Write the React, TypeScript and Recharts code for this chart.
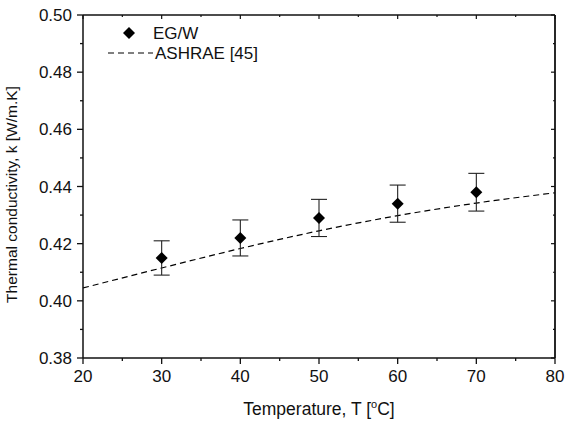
import React from 'react';
import { ComposedChart, Line, Scatter, ErrorBar, XAxis, YAxis, Legend } from 'recharts';

const temperatures = [30, 40, 50, 60, 70];
const conductivity = [0.415, 0.422, 0.429, 0.434, 0.438];
const errors = [0.006, 0.0063, 0.0065, 0.0065, 0.0066];
const ashraeT = [20, 30, 40, 50, 60, 70, 80];
const ashraeK = [0.4045, 0.4115, 0.4183, 0.4245, 0.4298, 0.4342, 0.4378];
const xTicks = [20, 25, 30, 35, 40, 45, 50, 55, 60, 65, 70, 75, 80];
const xMajor = [20, 30, 40, 50, 60, 70, 80];
const yTicks = [0.38, 0.39, 0.4, 0.41, 0.42, 0.43, 0.44, 0.45, 0.46, 0.47, 0.48, 0.49, 0.5];
const yMajor = [0.38, 0.4, 0.42, 0.44, 0.46, 0.48, 0.5];
const seriesNames = ['EG/W', 'ASHRAE [45]'];

const FONT = '"Liberation Sans", Arial, sans-serif';
const INK = '#111';

const measured = temperatures.map((t, i) => ({ x: t, y: conductivity[i], err: errors[i] }));
const ashrae = ashraeT.map((t, i) => ({ x: t, y: ashraeK[i] }));

const isMajorX = (v: number) => xMajor.some((m) => Math.abs(m - v) < 1e-6);
const isMajorY = (v: number) => yMajor.some((m) => Math.abs(m - v) < 1e-6);

const BottomTick = (props: any) => {
  const { x, y, payload } = props;
  const major = isMajorX(payload.value);
  return (
    <g>
      <line x1={x} x2={x} y1={y} y2={y + (major ? 6 : 3)} stroke={INK} strokeWidth={1.3} />
      {major && (
        <text x={x} y={y + 24} textAnchor="middle" fontSize={17} fontFamily={FONT} fill={INK}>
          {payload.value}
        </text>
      )}
    </g>
  );
};

const TopTick = (props: any) => {
  const { x, y, payload } = props;
  const major = isMajorX(payload.value);
  return <line x1={x} x2={x} y1={y} y2={y + (major ? 4 : 2)} stroke={INK} strokeWidth={1.2} />;
};

const LeftTick = (props: any) => {
  const { x, y, payload } = props;
  const major = isMajorY(payload.value);
  return (
    <g>
      <line x1={x} x2={x - (major ? 6 : 3)} y1={y} y2={y} stroke={INK} strokeWidth={1.3} />
      {major && (
        <text x={x - 11} y={y + 6} textAnchor="end" fontSize={17} fontFamily={FONT} fill={INK}>
          {Number(payload.value).toFixed(2)}
        </text>
      )}
    </g>
  );
};

const RightTick = (props: any) => {
  const { x, y, payload } = props;
  const major = isMajorY(payload.value);
  return <line x1={x} x2={x - (major ? 4 : 2)} y1={y} y2={y} stroke={INK} strokeWidth={1.2} />;
};

const Diamond = (props: any) => {
  const { cx, cy } = props;
  const r = 6;
  return <polygon points={`${cx},${cy - r} ${cx + r},${cy} ${cx},${cy + r} ${cx - r},${cy}`} fill="#000" />;
};

const LegendContent = () => (
  <svg width={240} height={46} style={{ display: 'block' }}>
    <polygon points="29,7 35,13 29,19 23,13" fill="#000" />
    <text x={53} y={19} fontSize={17} fontFamily={FONT} fill={INK}>
      {seriesNames[0]}
    </text>
    <line x1={8} x2={53} y1={33} y2={33} stroke="#000" strokeWidth={1.2} strokeDasharray="6 4" />
    <text x={55} y={39} fontSize={17} fontFamily={FONT} fill={INK}>
      {seriesNames[1]}
    </text>
  </svg>
);

const XTitle = (props: any) => {
  const vb = props.viewBox || { x: 83, y: 358, width: 472 };
  const cx = vb.x + vb.width / 2;
  return (
    <text x={cx} y={vb.y + 57} textAnchor="middle" fontSize={17.5} fontFamily={FONT} fill={INK}>
      Temperature, T [
      <tspan dy={-7} fontSize={11}>o</tspan>
      <tspan dy={7}>C]</tspan>
    </text>
  );
};

const YTitle = (props: any) => {
  const vb = props.viewBox || { x: 0, y: 15, height: 343 };
  const cy = vb.y + vb.height / 2 + 8;
  const tx = 16.5;
  return (
    <text
      x={tx}
      y={cy}
      transform={`rotate(-90 ${tx} ${cy})`}
      textAnchor="middle"
      fontSize={15.5}
      fontFamily={FONT}
      fill={INK}
    >
      Thermal conductivity, k [W/m.K]
    </text>
  );
};

export default function App() {
  return (
    <div style={{ position: 'absolute', left: 0, top: 0, width: 565, height: 421, background: '#fff' }}>
      <ComposedChart width={565} height={421} margin={{ top: 14, right: 9, bottom: 0, left: 0 }}>
        <XAxis
          xAxisId="bottom"
          dataKey="x"
          type="number"
          domain={[20, 80]}
          ticks={xTicks}
          interval={0}
          height={63}
          tickSize={0}
          tickMargin={0}
          tickLine={false}
          tick={BottomTick}
          axisLine={{ stroke: INK, strokeWidth: 1.5 }}
          allowDataOverflow
          label={<XTitle />}
        />
        <XAxis
          xAxisId="top"
          orientation="top"
          dataKey="x"
          type="number"
          domain={[20, 80]}
          ticks={xTicks}
          interval={0}
          height={1}
          tickSize={0}
          tickMargin={0}
          tickLine={false}
          tick={TopTick}
          axisLine={{ stroke: INK, strokeWidth: 1.5 }}
          allowDataOverflow
        />
        <YAxis
          yAxisId="left"
          dataKey="y"
          type="number"
          domain={[0.38, 0.5]}
          ticks={yTicks}
          interval={0}
          width={83}
          tickSize={0}
          tickMargin={0}
          tickLine={false}
          tick={LeftTick}
          axisLine={{ stroke: INK, strokeWidth: 1.5 }}
          allowDataOverflow
          label={<YTitle />}
        />
        <YAxis
          yAxisId="right"
          orientation="right"
          dataKey="y"
          type="number"
          domain={[0.38, 0.5]}
          ticks={yTicks}
          interval={0}
          width={1}
          tickSize={0}
          tickMargin={0}
          tickLine={false}
          tick={RightTick}
          axisLine={{ stroke: INK, strokeWidth: 1.8 }}
          allowDataOverflow
        />
        <Line
          xAxisId="top"
          yAxisId="right"
          data={ashrae}
          dataKey="y"
          name={seriesNames[1]}
          type="monotone"
          stroke="#000"
          strokeWidth={1.2}
          strokeDasharray="6 4"
          dot={false}
          activeDot={false}
          isAnimationActive={false}
        />
        <Scatter
          xAxisId="bottom"
          yAxisId="left"
          data={measured}
          dataKey="y"
          name={seriesNames[0]}
          fill="#000"
          shape={Diamond}
          isAnimationActive={false}
        >
          <ErrorBar dataKey="err" direction="y" width={8} stroke="#222" strokeWidth={1.1} isAnimationActive={false} />
        </Scatter>
        <Legend
          layout="vertical"
          align="center"
          verticalAlign="middle"
          content={<LegendContent />}
          wrapperStyle={{ position: 'absolute', left: 100, top: 20, width: 240, height: 46 }}
        />
      </ComposedChart>
    </div>
  );
}
